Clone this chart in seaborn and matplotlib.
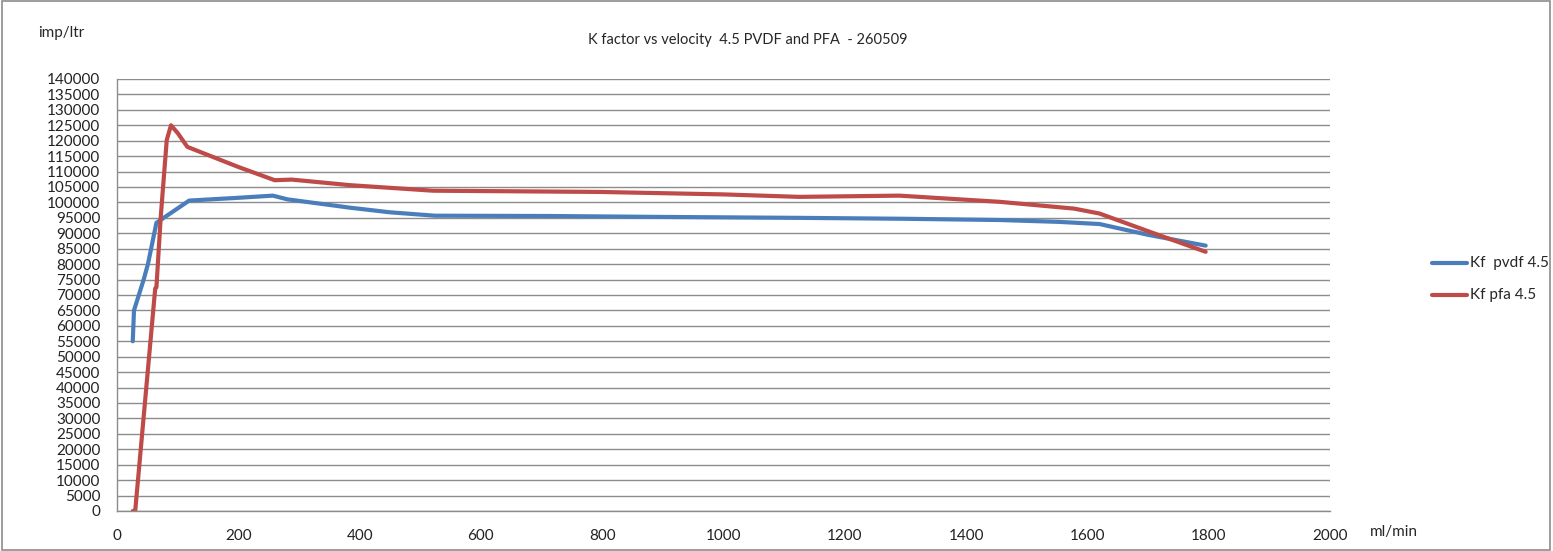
import numpy as np
import pandas as pd
import matplotlib.pyplot as plt
import seaborn as sns
from matplotlib.patches import Rectangle

# data (ml/min vs imp/ltr)
pvdf_x = [26, 28, 44, 51, 65, 119, 200, 257, 281, 384, 450, 524, 714, 900, 1125, 1300, 1455, 1553, 1620, 1700, 1795]
pvdf_y = [55000, 65000, 75000, 80000, 93400, 100600, 101500, 102200, 101000, 98300, 96800, 95700, 95600, 95300, 95000, 94700, 94300, 93700, 93000, 89500, 86000]

pfa_x = [26, 30, 63, 65, 72, 82, 89, 100, 116, 200, 260, 288, 384, 521, 796, 1000, 1125, 1290, 1455, 1578, 1620, 1718, 1795]
pfa_y = [0, 0, 72100, 72500, 95000, 120200, 125000, 122500, 118000, 111500, 107200, 107400, 105600, 103800, 103400, 102600, 101800, 102200, 100200, 98000, 96400, 89400, 84000]

series_names = ['Kf  pvdf 4.5', 'Kf pfa 4.5']
series_colors = ['#4A7EBB', '#BE4B48']

title = 'K factor vs velocity  4.5 PVDF and PFA  - 260509'

df = pd.concat([
    pd.DataFrame({'x': pvdf_x, 'y': pvdf_y, 'series': series_names[0]}),
    pd.DataFrame({'x': pfa_x, 'y': pfa_y, 'series': series_names[1]}),
], ignore_index=True)

sns.set_style('white')
plt.rcParams['font.family'] = ['Lato', 'DejaVu Sans']

fig = plt.figure(figsize=(15.53, 5.51), dpi=100)
ax = fig.add_axes([117 / 1553, 1 - 511 / 551, (1330 - 117) / 1553, (511 - 79) / 551])

sns.lineplot(data=df, x='x', y='y', hue='series', palette=series_colors,
             sort=False, estimator=None, linewidth=3.0, ax=ax, legend=False)

ax.set_xlim(0, 2000)
ax.set_ylim(0, 140000)
ax.set_xticks(np.arange(0, 2001, 200))
ax.set_yticks(np.arange(0, 140001, 5000))
ax.tick_params(axis='both', labelsize=11, colors='#222222', length=4, width=1, direction='out')
ax.tick_params(axis='x', pad=9)
ax.tick_params(axis='y', pad=8)
ax.tick_params(axis='both', color='#888888')
ax.yaxis.grid(True, color='#8c8c8c', linewidth=1.0)
ax.xaxis.grid(False)
ax.set_axisbelow(True)
for side in ['top', 'right']:
    ax.spines[side].set_visible(False)
for side in ['left', 'bottom']:
    ax.spines[side].set_color('#8c8c8c')
    ax.spines[side].set_linewidth(1.0)
ax.set_xlabel('')
ax.set_ylabel('')

fig.text(38 / 1553, 1 - 33 / 551, 'imp/ltr', fontsize=11, va='center', ha='left')
fig.text(1370 / 1553, 1 - 532 / 551, 'ml/min', fontsize=11, va='center', ha='left')
fig.text(748 / 1553, 1 - 40 / 551, title, fontsize=10.5, va='center', ha='center')

# legend drawn manually at the right
for i, (name, col) in enumerate(zip(series_names, series_colors)):
    yy = 1 - (263 + 32 * i) / 551
    fig.add_artist(plt.Line2D([1432 / 1553, 1467 / 1553], [yy, yy], color=col,
                              linewidth=3.0, solid_capstyle='round'))
    fig.text(1470 / 1553, yy, name, fontsize=11, va='center', ha='left')

fig.add_artist(Rectangle((0.001, 0.001), 0.997, 0.997, transform=fig.transFigure,
                         fill=False, edgecolor='#8c8c8c', linewidth=1.2))

fig.savefig('out.png', dpi=100)
